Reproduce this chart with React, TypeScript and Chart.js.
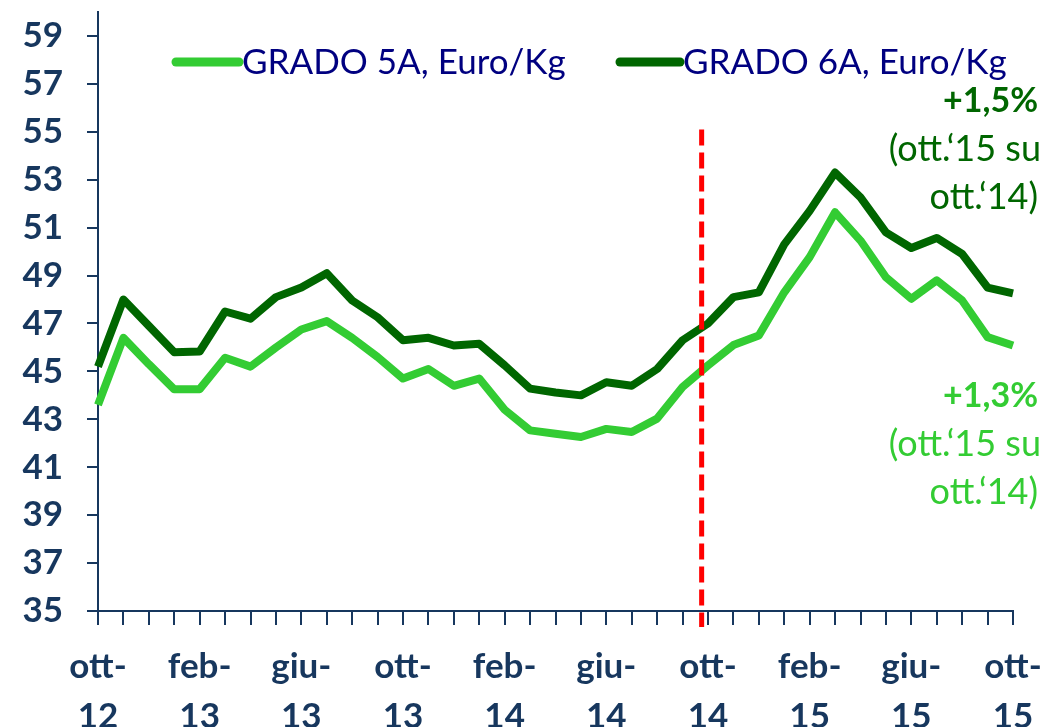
import React, { useEffect, useRef } from "react";
import { Chart, registerables } from "chart.js";

Chart.register(...registerables);

const MONTHS = [
  "ott-12", "nov-12", "dic-12", "gen-13", "feb-13", "mar-13", "apr-13", "mag-13", "giu-13", "lug-13", "ago-13", "set-13",
  "ott-13", "nov-13", "dic-13", "gen-14", "feb-14", "mar-14", "apr-14", "mag-14", "giu-14", "lug-14", "ago-14", "set-14",
  "ott-14", "nov-14", "dic-14", "gen-15", "feb-15", "mar-15", "apr-15", "mag-15", "giu-15", "lug-15", "ago-15", "set-15",
  "ott-15",
];

const GRADO_5A = [
  43.6, 46.4, 45.3, 44.25, 44.26, 45.57, 45.2, 46.0, 46.75, 47.1, 46.4, 45.6,
  44.7, 45.1, 44.4, 44.7, 43.4, 42.54, 42.4, 42.26, 42.6, 42.47, 43.03, 44.35,
  45.25, 46.1, 46.5, 48.3, 49.77, 51.64, 50.46, 48.93, 48.03, 48.8, 47.96, 46.43,
  46.08,
];

const GRADO_6A = [
  45.2, 48.0, 46.9, 45.8, 45.83, 47.5, 47.2, 48.1, 48.5, 49.1, 47.96, 47.26,
  46.3, 46.4, 46.08, 46.15, 45.25, 44.28, 44.12, 44.0, 44.55, 44.4, 45.1, 46.3,
  47.0, 48.1, 48.3, 50.3, 51.7, 53.3, 52.26, 50.8, 50.15, 50.57, 49.9, 48.5,
  48.26,
];

const SERIES_NAMES = ["GRADO 5A, Euro/Kg", "GRADO 6A, Euro/Kg"];
const Y_TICKS = [35, 37, 39, 41, 43, 45, 47, 49, 51, 53, 55, 57, 59];
const Y_MIN = 35;
const Y_MAX = 60;
const LABEL_EVERY = 4;
const MARKER_INDEX = 23.75; // red dashed line, just before ott-14
const MARKER_TOP_VALUE = 55.1;
const NOTE_6A = ["+1,5%", "(ott.\u201815 su", "ott.\u201814)"];
const NOTE_5A = ["+1,3%", "(ott.\u201815 su", "ott.\u201814)"];

const LIGHT = "#33CC33";
const DARK = "#006600";
const NAVY = "#17375E";
const LEGEND_TEXT = "#000080";
const FONT = "Lato, 'Open Sans', sans-serif";

const overlayPlugin = {
  id: "overlay",
  afterDatasetsDraw(chart: any) {
    const { ctx, scales } = chart;
    const x = scales.x;
    const y = scales.y;
    const px = x.getPixelForValue(MARKER_INDEX);
    ctx.save();
    ctx.strokeStyle = "#FF0000";
    ctx.lineWidth = 5;
    ctx.setLineDash([16, 7]);
    ctx.beginPath();
    ctx.moveTo(px, y.getPixelForValue(MARKER_TOP_VALUE));
    ctx.lineTo(px, y.bottom + 16);
    ctx.stroke();
    ctx.restore();
  },
  afterDraw(chart: any) {
    const { ctx, chartArea } = chart;
    const left = chartArea.left;
    ctx.save();
    // legend
    const items = [
      { color: LIGHT, x0: left + 78, x1: left + 141, tx: left + 144, name: SERIES_NAMES[0], w: 326 },
      { color: DARK, x0: left + 522, x1: left + 582, tx: left + 585, name: SERIES_NAMES[1], w: 326 },
    ];
    const ly = 62;
    items.forEach((it) => {
      ctx.strokeStyle = it.color;
      ctx.lineWidth = 9;
      ctx.lineCap = "round";
      ctx.beginPath();
      ctx.moveTo(it.x0, ly);
      ctx.lineTo(it.x1, ly);
      ctx.stroke();
      ctx.fillStyle = LEGEND_TEXT;
      ctx.font = `400 35px ${FONT}`;
      ctx.textAlign = "left";
      ctx.textBaseline = "middle";
      ctx.fillText(it.name, it.tx, ly + 1, it.w);
    });
    // annotations
    const rx = 1038;
    const drawNote = (lines: string[], color: string, cy: number) => {
      ctx.fillStyle = color;
      ctx.textAlign = "right";
      ctx.textBaseline = "middle";
      lines.forEach((t, i) => {
        ctx.font = i === 0 ? `700 34px ${FONT}` : `400 36px ${FONT}`;
        ctx.fillText(t, i === 1 ? rx + 3 : rx, cy + i * 48);
      });
    };
    drawNote(NOTE_6A, DARK, 101);
    drawNote(NOTE_5A, LIGHT, 396);
    ctx.restore();
  },
};

export default function App() {
  const ref = useRef<HTMLCanvasElement | null>(null);
  useEffect(() => {
    if (!ref.current) return;
    const chart = new Chart(ref.current, {
      type: "line",
      data: {
        labels: MONTHS,
        datasets: [
          {
            label: SERIES_NAMES[0],
            data: GRADO_5A,
            borderColor: LIGHT,
            backgroundColor: LIGHT,
            borderWidth: 8,
            pointRadius: 0,
            tension: 0,
            borderJoinStyle: "round",
          },
          {
            label: SERIES_NAMES[1],
            data: GRADO_6A,
            borderColor: DARK,
            backgroundColor: DARK,
            borderWidth: 8,
            pointRadius: 0,
            tension: 0,
            borderJoinStyle: "round",
          },
        ],
      },
      options: {
        responsive: false,
        animation: false,
        maintainAspectRatio: false,
        layout: { padding: { left: 0, right: 32, top: 12, bottom: 0 } },
        plugins: { legend: { display: false }, tooltip: { enabled: false } },
        scales: {
          x: {
            type: "category",
            offset: false,
            border: { display: true, color: NAVY, width: 2 },
            grid: { drawOnChartArea: false, drawTicks: true, tickLength: 14, color: NAVY, lineWidth: 2 },
            ticks: {
              autoSkip: false,
              maxRotation: 0,
              minRotation: 0,
              padding: 16,
              color: NAVY,
              font: { family: FONT, size: 35, weight: "bold", lineHeight: 1.45 },
              callback: (_v: any, i: number) => {
                if (i % LABEL_EVERY !== 0) return "";
                const [m, yy] = MONTHS[i].split("-");
                return [m + "-", yy];
              },
            },
            afterFit: (s: any) => {
              s.height = 727 - 611;
              s.paddingLeft = 0;
              s.paddingRight = 0;
            },
          },
          y: {
            min: Y_MIN,
            max: Y_MAX,
            border: { display: true, color: NAVY, width: 2 },
            grid: { drawOnChartArea: false, drawTicks: true, tickLength: 11, color: NAVY, lineWidth: 2 },
            ticks: {
              padding: 24,
              color: NAVY,
              font: { family: FONT, size: 35, weight: "bold" },
            },
            afterBuildTicks: (s: any) => {
              s.ticks = Y_TICKS.map((v) => ({ value: v }));
            },
            afterFit: (s: any) => {
              s.width = 98;
              s.paddingTop = 0;
              s.paddingBottom = 0;
            },
          },
        },
      },
      plugins: [overlayPlugin],
    } as any);
    return () => chart.destroy();
  }, []);
  return (
    <div style={{ position: "fixed", left: 0, top: 0, width: 1045, height: 727, background: "#fff" }}>
      <canvas ref={ref} width={1045} height={727} style={{ width: 1045, height: 727, display: "block" }} />
    </div>
  );
}
